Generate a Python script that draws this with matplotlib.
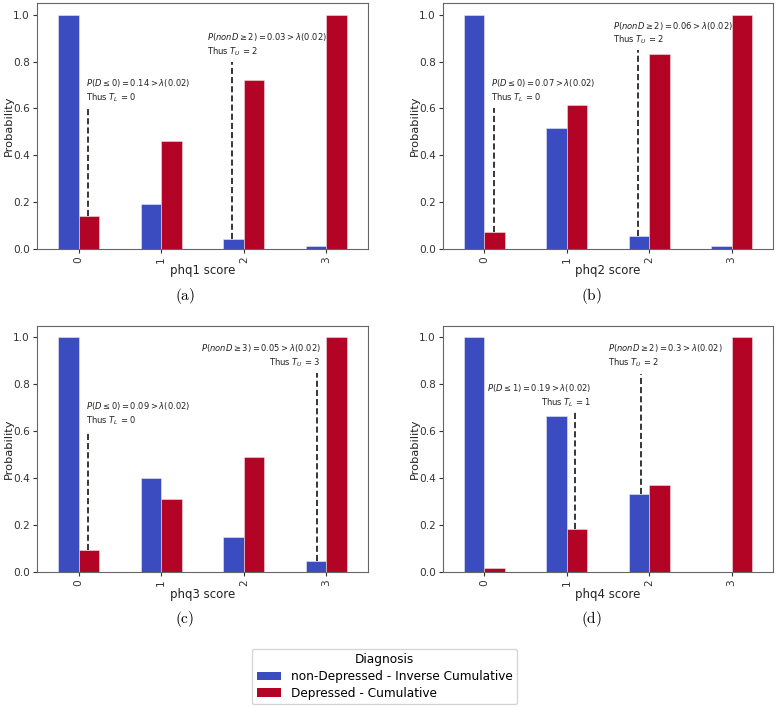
import matplotlib
matplotlib.use("Agg")
import matplotlib.pyplot as plt
import numpy as np
from matplotlib.patches import Patch

# ---- data ----
scores = ["0", "1", "2", "3"]
series_names = ["non-Depressed - Inverse Cumulative", "Depressed - Cumulative"]
panel_items = ["phq1", "phq2", "phq3", "phq4"]
captions = ["(a)", "(b)", "(c)", "(d)"]

nondep_phq1 = [1.0, 0.19, 0.043, 0.013]
dep_phq1 = [0.14, 0.46, 0.722, 1.0]
nondep_phq2 = [1.0, 0.518, 0.057, 0.012]
dep_phq2 = [0.071, 0.614, 0.834, 1.0]
nondep_phq3 = [1.0, 0.40, 0.15, 0.05]
dep_phq3 = [0.094, 0.312, 0.492, 1.0]
nondep_phq4 = [1.0, 0.667, 0.333, 0.0]
dep_phq4 = [0.02, 0.185, 0.372, 1.0]

nondep = [nondep_phq1, nondep_phq2, nondep_phq3, nondep_phq4]
dep = [dep_phq1, dep_phq2, dep_phq3, dep_phq4]

lower_text = [r"$P(D \leq 0) = 0.14 > \lambda(0.02)$" + "\nThus $T_L$ = 0",
              r"$P(D \leq 0) = 0.07 > \lambda(0.02)$" + "\nThus $T_L$ = 0",
              r"$P(D \leq 0) = 0.09 > \lambda(0.02)$" + "\nThus $T_L$ = 0",
              r"$P(D \leq 1) = 0.19 > \lambda(0.02)$" + "\nThus $T_L$ = 1"]
upper_text = [r"$P(nonD \geq 2) = 0.03 > \lambda(0.02)$" + "\nThus $T_U$ = 2",
              r"$P(nonD \geq 2) = 0.06 > \lambda(0.02)$" + "\nThus $T_U$ = 2",
              r"$P(nonD \geq 3) = 0.05 > \lambda(0.02)$" + "\nThus $T_U$ = 3",
              r"$P(nonD \geq 2) = 0.3 > \lambda(0.02)$" + "\nThus $T_U$ = 2"]
lower_idx = [0, 0, 0, 1]
upper_idx = [2, 2, 3, 2]

blue = "#3b4cc0"
red = "#b40426"

W, H = 776, 708
fig = plt.figure(figsize=(W / 100, H / 100), dpi=100)

rects = [(37.3, 3, 367.7, 249), (443.3, 3, 772.7, 249),
         (37.3, 325.5, 367.7, 572.3), (443.3, 325.5, 772.7, 572.3)]
cap_pos = [(185, 296), (591, 296), (185, 619), (591, 619)]

# annotation layout (positions/styles only)
low_line_x = [0.11, 0.11, 0.11, 1.105]
low_line_top = [0.60, 0.60, 0.60, 0.683]
low_text_xy = [(0.089, 0.618), (0.08, 0.618), (0.089, 0.618), (1.296, 0.695)]
low_ha = ["left", "left", "left", "right"]
up_line_x = [1.86, 1.87, 2.89, 1.895]
up_line_top = [0.80, 0.848, 0.85, 0.842]
up_text_xy = [(1.556, 0.815), (1.559, 0.865), (2.93, 0.867), (1.506, 0.867)]
up_ha = ["left", "left", "right", "left"]

FS_ANN = 6.0

for i in range(4):
    l, t, r, b = rects[i]
    ax = fig.add_axes([l / W, 1 - b / H, (r - l) / W, (b - t) / H])
    x = np.arange(len(scores))
    w = 0.25
    ax.bar(x - w / 2, nondep[i], w, color=blue, edgecolor="#e8e8f8", linewidth=0.4)
    ax.bar(x + w / 2, dep[i], w, color=red, edgecolor="#f0e0e4", linewidth=0.4)
    ax.set_xlim(-0.5, 3.5)
    ax.set_ylim(0, 1.05)
    ax.set_xticks(x)
    ax.set_xticklabels(scores, rotation=90)
    ax.set_yticks([0, 0.2, 0.4, 0.6, 0.8, 1.0])
    ax.tick_params(labelsize=7.6, colors="#333333", length=3, pad=2.2)
    for s in ax.spines.values():
        s.set_color("#666666")
    ax.set_xlabel(f"{panel_items[i]} score", fontsize=8.5, color="#222222", labelpad=1)
    ax.set_ylabel("Probability", fontsize=8.2, color="#222222")
    ax.yaxis.set_label_coords((9.0 - 37.3) / (r - l), 0.5)
    ax.yaxis.label.set_va("center")

    li = lower_idx[i]
    ax.vlines(low_line_x[i], dep[i][li], low_line_top[i], colors="black",
              linestyles=(0, (4, 2)), linewidth=1.1)
    tx, ty = low_text_xy[i]
    ax.text(tx, ty, lower_text[i], fontsize=FS_ANN, ha=low_ha[i], va="bottom",
            color="#222222", linespacing=1.25, multialignment=low_ha[i])

    ui = upper_idx[i]
    ax.vlines(up_line_x[i], nondep[i][ui], up_line_top[i], colors="black",
              linestyles=(0, (4, 2)), linewidth=1.1)
    tx, ty = up_text_xy[i]
    ax.text(tx, ty, upper_text[i], fontsize=FS_ANN, ha=up_ha[i], va="bottom",
            color="#222222", linespacing=1.25, multialignment=up_ha[i])

    cx, cy = cap_pos[i]
    fig.text(cx / W, 1 - cy / H, r"$\mathrm{" + captions[i] + "}$", fontsize=11,
             ha="center", va="center", math_fontfamily="cm")

handles = [Patch(facecolor=blue, edgecolor="none"), Patch(facecolor=red, edgecolor="none")]
leg = fig.legend(handles, series_names, title="Diagnosis", loc="center",
                 bbox_to_anchor=(384.5 / W, 1 - 676.5 / H), fontsize=8.7, title_fontsize=8.7,
                 frameon=True, handlelength=2.0, handletextpad=0.8, borderpad=0.4,
                 labelspacing=0.3)
leg.get_frame().set_edgecolor("#cccccc")

fig.savefig("out.png", dpi=100)
